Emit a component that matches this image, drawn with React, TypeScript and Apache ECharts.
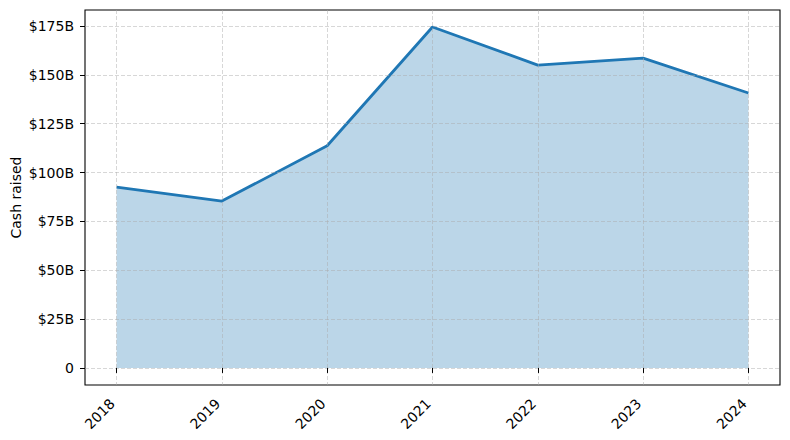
import React, { useEffect, useRef } from 'react';
import * as echarts from 'echarts';

const years = [2018, 2019, 2020, 2021, 2022, 2023, 2024];
const cashRaised = [92.6, 85.4, 113.7, 174.5, 155.0, 158.6, 140.7];
const yTicks = [0, 25, 50, 75, 100, 125, 150, 175];

const gridLine = { show: true, lineStyle: { color: 'rgba(170,170,170,0.6)', type: [4, 2] as number[], width: 0.8 } };

export default function App() {
    const chartRef = useRef<HTMLDivElement>(null);

    useEffect(() => {
        const chart = echarts.init(chartRef.current!, null, { renderer: 'svg' });

        chart.setOption({
            animation: false,
            textStyle: { fontFamily: 'DejaVu Sans' },
            grid: {
                left: 85,
                right: 10,
                top: 10,
                bottom: 55,
                show: true,
                borderColor: '#000',
                borderWidth: 1.1,
                backgroundColor: 'transparent',
                outerBoundsMode: 'none',
            },
            xAxis: {
                type: 'value',
                min: 2017.7,
                max: 2024.3,
                z: 3,
                axisLine: { show: false },
                axisTick: { show: true, length: 5, customValues: years, lineStyle: { color: '#000' } },
                axisLabel: {
                    customValues: years,
                    rotate: 45,
                    margin: 12,
                    padding: [0, 6, 0, 0],
                    color: '#000',
                    fontSize: 14,
                    formatter: (v: number) => String(v),
                },
                splitLine: gridLine,
            },
            yAxis: {
                type: 'value',
                min: -8.725,
                max: 183.2,
                z: 3,
                name: 'Cash raised',
                nameLocation: 'middle',
                nameGap: 62,
                nameMoveOverlap: false,
                nameTextStyle: { color: '#000', fontSize: 14 },
                axisLine: { show: false },
                axisTick: { show: true, length: 5, customValues: yTicks, lineStyle: { color: '#000' } },
                axisLabel: {
                    customValues: yTicks,
                    margin: 11,
                    color: '#000',
                    fontSize: 14,
                    formatter: (v: number) => (v === 0 ? '0' : `$${v}B`),
                },
                splitLine: gridLine,
            },
            series: [
                {
                    type: 'line',
                    data: years.map((y, i) => [y, cashRaised[i]]),
                    showSymbol: false,
                    symbol: 'none',
                    lineStyle: { color: '#1f77b4', width: 2.8 },
                    areaStyle: { color: '#1f77b4', opacity: 0.3 },
                    z: 2,
                },
            ],
        });

        return () => {
            chart.dispose();
        };
    }, []);

    return <div ref={chartRef} style={{ width: 790, height: 440, margin: -8 }} />;
}
